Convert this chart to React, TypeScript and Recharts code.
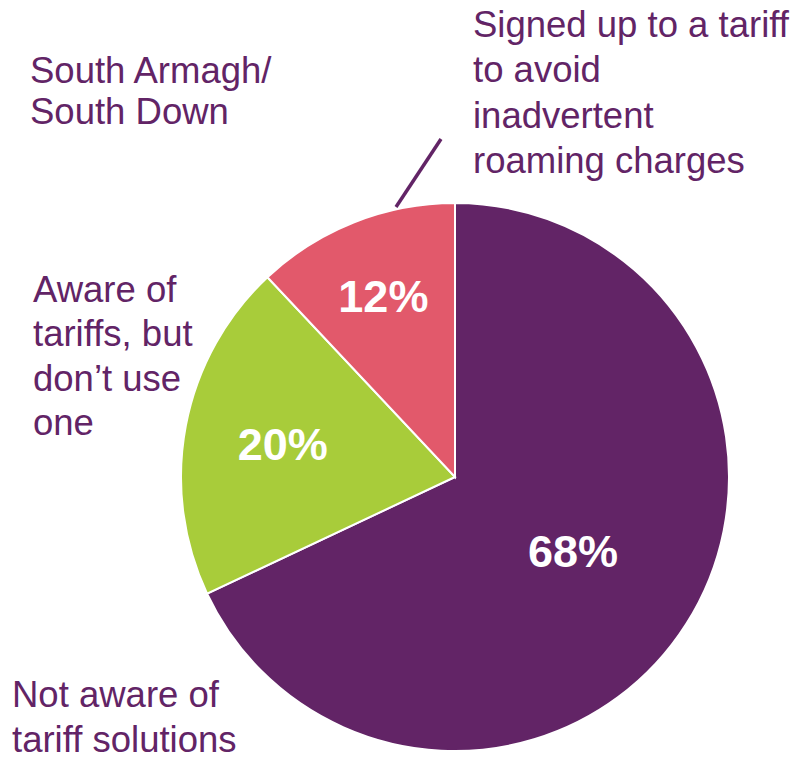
import { PieChart, Pie, Cell } from "recharts";

const categories = [
  "Not aware of tariff solutions",
  "Aware of tariffs, but don’t use one",
  "Signed up to a tariff to avoid inadvertent roaming charges",
];
const shares = [68, 20, 12];
const colors = ["#622466", "#a8cc3a", "#e2596b"];

// text blocks shown around the pie
const signedUpLines = ["Signed up to a tariff", "to avoid", "inadvertent", "roaming charges"];
const regionLines = ["South Armagh/", "South Down"];
const awareLines = ["Aware of", "tariffs, but", "don’t use", "one"];
const notAwareLines = ["Not aware of", "tariff solutions"];

const data = categories.map((name, i) => ({ name, value: shares[i] }));

const PURPLE = "#622466";
const FONT = "'Liberation Sans', Arial, sans-serif";
const RADIAN = Math.PI / 180;
// how far out from the centre each percentage sits (fraction of radius)
const labelPos = [0.51, 0.64, 0.71];

function PercentLabel(props: any) {
  const { cx, cy, midAngle, outerRadius, index, value } = props;
  const r = outerRadius * labelPos[index];
  const x = cx + r * Math.cos(-midAngle * RADIAN);
  const y = cy + r * Math.sin(-midAngle * RADIAN);
  return (
    <text
      x={x}
      y={y}
      fill="#fff"
      textAnchor="middle"
      dominantBaseline="central"
      fontFamily={FONT}
      fontWeight="bold"
      fontSize={45}
    >
      {`${value}%`}
    </text>
  );
}

function Block({ lines, x, y, step }: { lines: string[]; x: number; y: number; step: number }) {
  return (
    <text fontFamily={FONT} fontSize={36.5} fill={PURPLE}>
      {lines.map((l, i) => (
        <tspan key={i} x={x} y={y + i * step}>
          {l}
        </tspan>
      ))}
    </text>
  );
}

export default function App() {
  return (
    <div style={{ position: "relative", width: 802, height: 757, background: "#fff" }}>
      <style>{`body{margin:0}`}</style>
      <PieChart width={802} height={757} margin={{ top: 0, right: 0, bottom: 0, left: 0 }}>
        <Pie
          data={data}
          dataKey="value"
          cx={455}
          cy={477}
          outerRadius={274}
          startAngle={90}
          endAngle={-270}
          stroke="#fff"
          strokeWidth={2}
          label={PercentLabel}
          labelLine={false}
          isAnimationActive={false}
        >
          {data.map((d, i) => (
            <Cell key={d.name} fill={colors[i]} />
          ))}
        </Pie>
      </PieChart>
      <svg
        width={802}
        height={757}
        style={{ position: "absolute", left: 0, top: 0, pointerEvents: "none" }}
      >
        <Block lines={signedUpLines} x={473} y={37} step={45.3} />
        <Block lines={regionLines} x={30} y={83} step={41} />
        <Block lines={awareLines} x={33} y={302} step={44.3} />
        <Block lines={notAwareLines} x={12} y={707} step={45} />
        <line x1={441} y1={139} x2={396} y2={207} stroke={PURPLE} strokeWidth={3.5} />
      </svg>
    </div>
  );
}
